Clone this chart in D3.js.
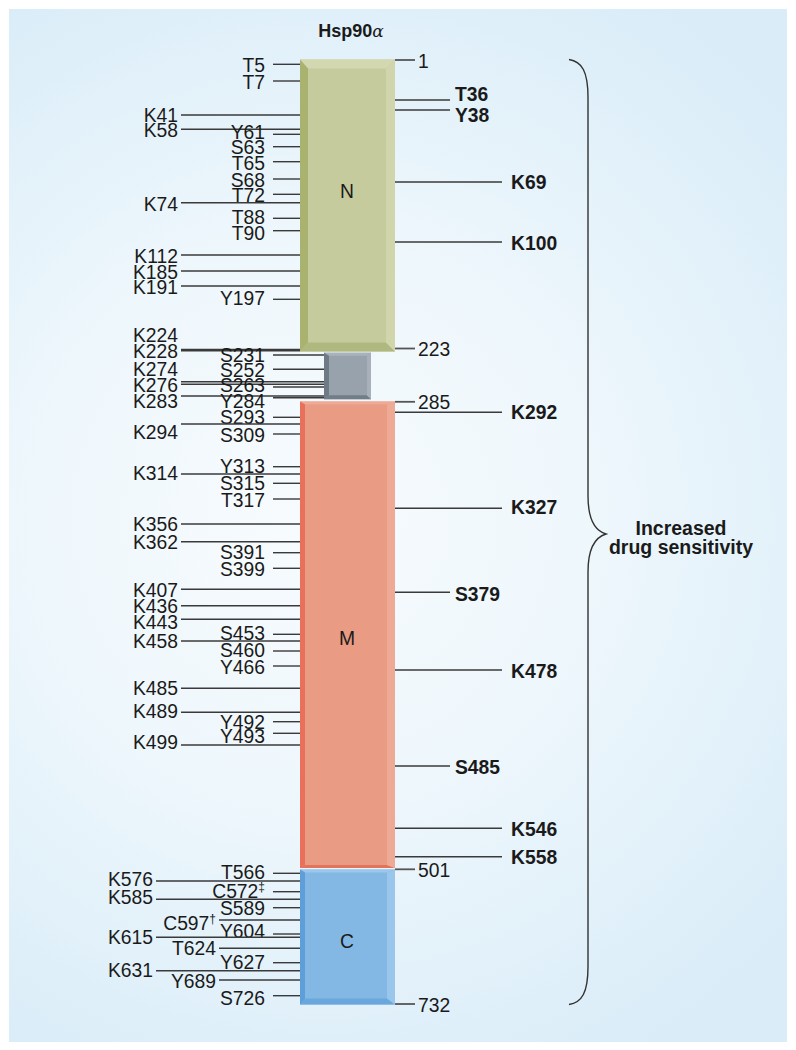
<!DOCTYPE html>
<html>
<head>
<meta charset="utf-8">
<script src="https://cdn.jsdelivr.net/npm/d3@7"></script>
<style>
  html, body { margin: 0; padding: 0; background: #ffffff; }
  svg { display: block; }
  text { font-family: "Liberation Sans", Arial, Helvetica, sans-serif; fill: #1a1a1a; }
</style>
</head>
<body>
<svg id="chart" width="796" height="1050"></svg>
<script>
// ---------------- DATA ----------------
const title = "Hsp90";
const titleGreek = "α";

// Domain boundaries (residue numbers)
const boundaryResidues = [1, 223, 285, 501, 732];
const domainNames = ["N", "", "M", "C"];
const domainStartRes = [1, 223, 285, 501];
const domainEndRes = [223, 285, 501, 732];
const domainLabelPos = [190, 0, 637, 940];

// Left-hand modification sites (label, line position, label position, label column)
const leftLabels = ["T5","T7","K41","K58","Y61","S63","T65","S68","T72","K74","T88","T90","K112","K185","K191","Y197",
  "K224","K228","S231","S252","K274","K276","S263","K283","Y284","S293","K294","S309","Y313","K314","S315","T317",
  "K356","K362","S391","S399","K407","K436","K443","S453","K458","S460","Y466","K485","K489","Y492","Y493","K499",
  "T566","K576","C572‡","K585","S589","C597†","Y604","K615","T624","Y627","K631","Y689","S726"];
const leftLinePos = [64.3,81,115,129.3,134.3,146.7,161.7,179,194.3,202.7,218.3,230.7,255,271,286,299.3,
  349.5,350.7,355,369.3,381.7,384.3,387,396,397.7,417.3,424,434,466.7,474,483.3,499,
  524,541.7,552.7,568.3,589.3,605.7,619.3,634.3,641,651,666,688.3,712.3,721.7,733.3,745,
  873.3,881,891.7,899.3,907.7,920,934,937.3,948.3,962.7,970.7,980,995.7];
const leftLabelPos = [64,81,114,129,131,146.7,162.7,179,194,203,216.7,232.7,255,271,286,297.3,
  334,350,354,369,368,384,384,400,400.7,416.7,431.7,434,465.7,472.7,482.7,499.3,
  523,541,551.7,568.3,589,605,621.7,632.7,640,649.3,666,687.3,710,721.7,735,741.7,
  871,878.3,890,896.7,907.7,922.3,930,936,947.7,961,969.3,980,997.3];
const leftColumn = ["B","B","A","A","B","B","B","B","B","A","B","B","A","A","A","B",
  "A","A","B","B","A","A","B","A","B","B","A","B","B","A","B","B",
  "A","A","B","B","A","A","A","B","A","B","B","A","A","B","B","A",
  "B","C","B","C","B","D","B","C","D","B","C","D","B"];

// Right-hand sites: increased drug sensitivity
const rightLabels = ["T36","Y38","K69","K100","K292","K327","S379","K478","S485","K546","K558"];
const rightLinePos = [100,110,182,242,412.3,508.3,592.3,670,766,828.3,856.7];
const rightLabelPos = [93,114,181,242,411,506,593.3,670,766,828.3,856];
const rightColumn = ["S","S","L","L","L","L","S","L","S","L","L"];

const braceLabel = ["Increased", "drug sensitivity"];

// ---------------- LAYOUT ----------------
const svg = d3.select("#chart");
const FS = 21, SX = 0.92; // condensed label face

// residue -> vertical position along the schematic (piecewise, schematic not to scale)
const yRes = d3.scaleLinear().domain(boundaryResidues).range([59.5, 351.5, 401.5, 868.7, 1004.5]);
// layout units -> pixels
const yPos = d3.scaleLinear().domain([0, 1050]).range([0, 1050]);

const colTextX = d3.scaleOrdinal().domain(["A","B","C","D"]).range([178, 265, 153, 216]);
const colLineX = d3.scaleOrdinal().domain(["A","B","C","D"]).range([181, 273, 156, 219]);
const rColLineEnd = d3.scaleOrdinal().domain(["S","L"]).range([450, 502]);
const rColTextX = d3.scaleOrdinal().domain(["S","L"]).range([455, 511]);

const boxX0 = 300, boxX1 = 395;
const linkerX0 = 324, linkerX1 = 371;

function label(g, x, y, anchor) {
  return g.append("text")
    .attr("transform", `translate(${x},${y}) scale(${SX},1)`)
    .attr("dy", "0.36em")
    .attr("text-anchor", anchor)
    .attr("font-size", FS);
}

// ---------------- BACKGROUND ----------------
const defs = svg.append("defs");
const rg = defs.append("radialGradient").attr("id", "bg")
  .attr("gradientUnits", "userSpaceOnUse")
  .attr("cx", 330).attr("cy", 520).attr("r", 620)
  .attr("fx", 300).attr("fy", 520);
rg.append("stop").attr("offset", "0%").attr("stop-color", "#f7fbfe");
rg.append("stop").attr("offset", "45%").attr("stop-color", "#eef7fc");
rg.append("stop").attr("offset", "100%").attr("stop-color", "#d9ecf8");
svg.append("rect").attr("x", 9).attr("y", 9).attr("width", 778).attr("height", 1033)
  .attr("fill", "url(#bg)");

// ---------------- BOXES ----------------
function bevelBox(g, x0, y0, x1, y1, bw, c) {
  g.append("rect").attr("x", x0).attr("y", y0).attr("width", x1 - x0).attr("height", y1 - y0).attr("fill", c.main);
  const poly = (pts, fill) => g.append("polygon").attr("points", pts.map(p => p.join(",")).join(" ")).attr("fill", fill);
  poly([[x0, y0], [x1, y0], [x1 - bw.r, y0 + bw.t], [x0 + bw.l, y0 + bw.t]], c.top);
  poly([[x0, y1], [x1, y1], [x1 - bw.r, y1 - bw.b], [x0 + bw.l, y1 - bw.b]], c.bottom);
  poly([[x0, y0], [x0 + bw.l, y0 + bw.t], [x0 + bw.l, y1 - bw.b], [x0, y1]], c.left);
  poly([[x1, y0], [x1 - bw.r, y0 + bw.t], [x1 - bw.r, y1 - bw.b], [x1, y1]], c.right);
}

const boxes = svg.append("g");
const boxStyles = [
  { x0: boxX0, x1: boxX1, dy0: 0, dy1: 0, bw: {t: 9, l: 8, r: 9, b: 9},
    c: {main: "#c5cb9c", top: "#d4d8b1", left: "#a9b36f", right: "#d0d5ac", bottom: "#afb97f"} },
  { x0: linkerX0, x1: linkerX1, dy0: 1.2, dy1: -2.3, bw: {t: 3, l: 5, r: 4, b: 4},
    c: {main: "#97a2ac", top: "#a9b2ba", left: "#6e7a85", right: "#a8b1b9", bottom: "#717d88"} },
  { x0: boxX0, x1: boxX1, dy0: 0, dy1: -0.8, bw: {t: 3, l: 5, r: 8, b: 3},
    c: {main: "#e99b83", top: "#eeaa95", left: "#e9705a", right: "#eeaa95", bottom: "#e3745c"} },
  { x0: boxX0, x1: boxX1, dy0: 0.8, dy1: 0, bw: {t: 3, l: 5, r: 8, b: 6},
    c: {main: "#84b8e4", top: "#9cc7ec", left: "#5f9fd9", right: "#9ac6eb", bottom: "#6aa7dc"} }
];
domainStartRes.forEach((s, i) => {
  const st = boxStyles[i];
  bevelBox(boxes, st.x0, yRes(s) + st.dy0, st.x1, yRes(domainEndRes[i]) + st.dy1, st.bw, st.c);
});

// domain letters
const dl = svg.append("g");
domainNames.forEach((n, i) => {
  if (!n) return;
  label(dl, 347, yPos(domainLabelPos[i]), "middle").text(n);
});

// ---------------- BOUNDARY TICKS ----------------
const bt = svg.append("g");
const tickNudge = [0.5, -3, 0.3, 0.6, -0.5];
boundaryResidues.forEach((r, i) => {
  const y = yRes(r) + tickNudge[i];
  bt.append("line").attr("x1", boxX1).attr("x2", 415).attr("y1", y).attr("y2", y)
    .attr("stroke", "#555").attr("stroke-width", 1.8);
  label(bt, 418, y, "start").text(r);
});

// ---------------- LEFT SITES ----------------
const linkerTop = yRes(223) + 1.2, linkerBot = yRes(285) - 2.3;
const left = svg.append("g");
leftLabels.forEach((lab, i) => {
  const ly = yPos(leftLinePos[i]);
  const col = leftColumn[i];
  const xEnd = (ly > linkerTop && ly < linkerBot) ? linkerX0 : boxX0;
  left.append("line").attr("x1", colLineX(col)).attr("x2", xEnd)
    .attr("y1", ly).attr("y2", ly)
    .attr("stroke", "#3a3a3a").attr("stroke-width", 1.4);
  const m = lab.match(/^(.*?)([†‡])?$/);
  const t = label(left, colTextX(col), yPos(leftLabelPos[i]), "end");
  t.append("tspan").text(m[1]);
  if (m[2]) {
    t.append("tspan").attr("font-size", 13).attr("dy", "-0.5em").text(m[2]);
  }
});

// ---------------- RIGHT SITES ----------------
const right = svg.append("g");
rightLabels.forEach((lab, i) => {
  const ly = yPos(rightLinePos[i]);
  const col = rightColumn[i];
  right.append("line").attr("x1", boxX1).attr("x2", rColLineEnd(col))
    .attr("y1", ly).attr("y2", ly)
    .attr("stroke", "#3a3a3a").attr("stroke-width", 1.4);
  label(right, rColTextX(col), yPos(rightLabelPos[i]), "start")
    .attr("font-weight", "bold").text(lab);
});

// ---------------- TITLE ----------------
const tt = svg.append("text").attr("x", 351).attr("y", 37).attr("text-anchor", "middle")
  .attr("font-size", 18).attr("font-weight", "bold");
tt.append("tspan").text(title);
tt.append("tspan").attr("font-family", "'DejaVu Serif', serif").attr("font-style", "italic")
  .attr("font-weight", "normal").attr("font-size", 17).text(titleGreek);

// ---------------- BRACE ----------------
const yTop = yRes(1), yBot = yRes(732);
const yMid = 534;
const bx = 588, tipX = 606, endX = 569;
const bp = d3.path();
bp.moveTo(endX, yTop);
bp.bezierCurveTo(582, yTop + 2, bx, yTop + 12, bx, yTop + 38);
bp.lineTo(bx, yMid - 38);
bp.bezierCurveTo(bx, yMid - 12, 596, yMid - 3, tipX, yMid);
bp.bezierCurveTo(596, yMid + 3, bx, yMid + 12, bx, yMid + 38);
bp.lineTo(bx, yBot - 38);
bp.bezierCurveTo(bx, yBot - 12, 582, yBot - 2, endX, yBot);
svg.append("path").attr("d", bp.toString()).attr("fill", "none")
  .attr("stroke", "#333").attr("stroke-width", 1.4);

svg.append("g").selectAll("text").data(braceLabel).join("text")
  .attr("x", 681).attr("y", (d, i) => 535 + i * 19)
  .attr("text-anchor", "middle").attr("font-size", 19.5).attr("font-weight", "bold")
  .text(d => d);
</script>
</body>
</html>
